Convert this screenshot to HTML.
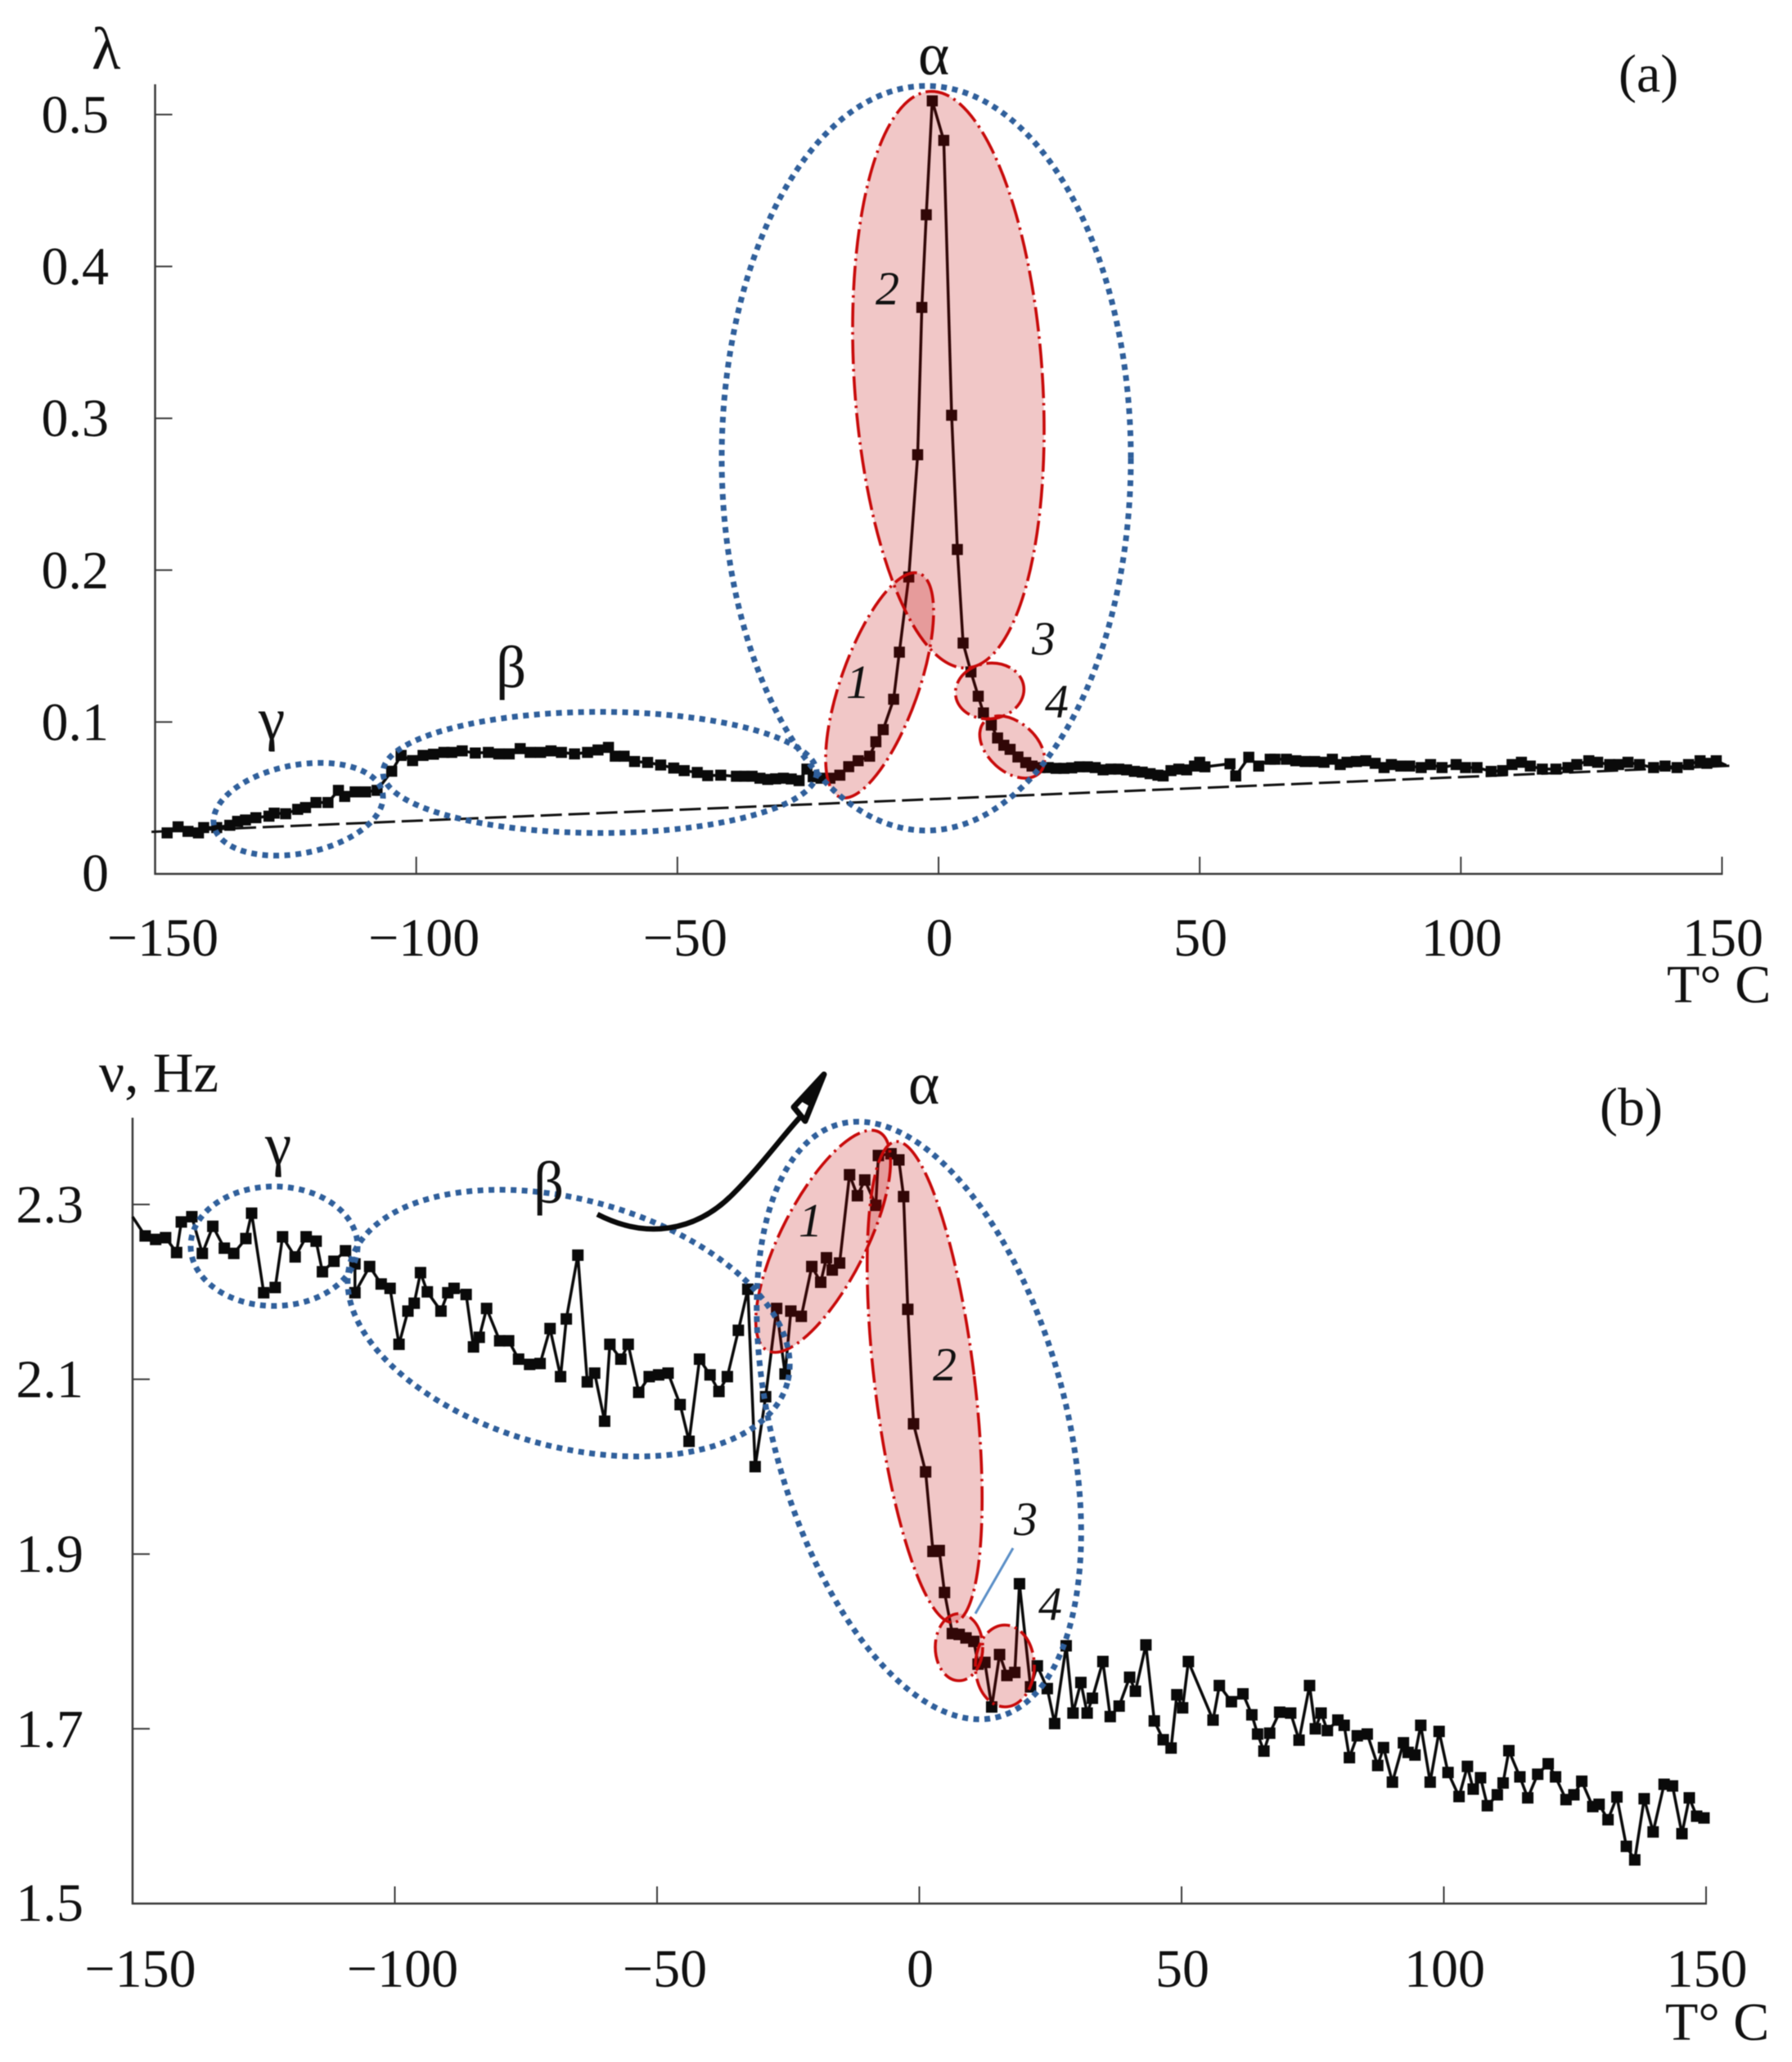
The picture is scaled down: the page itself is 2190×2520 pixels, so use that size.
<!DOCTYPE html>
<html lang="en">
<head>
<meta charset="utf-8">
<title>Loss coefficient and frequency vs temperature</title>
<style>
html,body{margin:0;padding:0;background:#fff;}
#figure{display:block;width:2190px;height:2520px;filter:blur(0.5px);}
text{font-family:"Liberation Serif","DejaVu Serif",serif;fill:#111;}
.tick-text{font-size:66px;}
.greek{font-size:73px;}
.num{font-size:58px;font-style:italic;}
.blue{fill:none;stroke:#2f5f9b;stroke-width:7;stroke-dasharray:7 6.5;}
.red{fill:#c00000;fill-opacity:.22;stroke:none;}
.red-line{fill:none;stroke:#c80a0a;stroke-width:3.6;stroke-dasharray:30 6 3 6;}
</style>
</head>
<body>
<svg id="figure" xmlns="http://www.w3.org/2000/svg" viewBox="0 0 2190 2520" width="2190" height="2520">
  <rect x="0" y="0" width="2190" height="2520" fill="#fff"/>

  <g id="panelA"></g>
  <g id="overlayA">
    <g transform="translate(1159 464) rotate(-3.7)"><ellipse class="red" rx="115" ry="353"/><ellipse class="red-line" rx="115" ry="353"/></g>
    <g transform="translate(1075 837.5) rotate(19.5)"><ellipse class="red" rx="47.5" ry="145"/><ellipse class="red-line" rx="47.5" ry="145"/></g>
    <g transform="translate(1209.5 844.5) rotate(-8)"><ellipse class="red" rx="42" ry="34"/><ellipse class="red-line" rx="42" ry="34"/></g>
    <g transform="translate(1237 913) rotate(42)"><ellipse class="red" rx="46" ry="30"/><ellipse class="red-line" rx="46" ry="30"/></g>
    <ellipse class="blue" cx="364.5" cy="989" rx="105" ry="54" transform="rotate(-11 364.5 989)"/>
    <ellipse class="blue" cx="733" cy="944" rx="265" ry="74"/>
    <ellipse class="blue" cx="1132" cy="560" rx="250" ry="455"/>
    <text class="greek" x="112" y="84">λ</text>
    <text x="1978" y="112" font-size="66">(a)</text>
    <text class="greek" x="316" y="903">γ</text>
    <text class="greek" x="606" y="840">β</text>
    <text class="greek" x="1122" y="91">α</text>
    <text class="num" x="1034" y="853">1</text>
    <text class="num" x="1070" y="372">2</text>
    <text class="num" x="1261" y="800">3</text>
    <text class="num" x="1277" y="877">4</text>
    <text x="2037" y="1225" font-size="66">T° C</text>
  </g>

  <g id="panelB"></g>
  <g id="overlayB">
    <g transform="translate(1006 1517) rotate(27)"><ellipse class="red" rx="52" ry="150"/><ellipse class="red-line" rx="52" ry="150"/></g>
    <g transform="translate(1130 1689) rotate(-6.9)"><ellipse class="red" rx="61" ry="296"/><ellipse class="red-line" rx="61" ry="296"/></g>
    <g transform="translate(1172 2013)"><ellipse class="red" rx="29" ry="41"/><ellipse class="red-line" rx="29" ry="41"/></g>
    <g transform="translate(1228 2036)"><ellipse class="red" rx="36" ry="50"/><ellipse class="red-line" rx="36" ry="50"/></g>
    <ellipse class="blue" cx="335" cy="1523" rx="102" ry="73"/>
    <ellipse class="blue" cx="695" cy="1617" rx="277" ry="151" transform="rotate(15.3 695 1617)"/>
    <ellipse class="blue" cx="1123" cy="1736" rx="179" ry="375" transform="rotate(-15 1123 1736)"/>
    <path d="M730,1484 C790,1515 850,1505 895,1460 C930,1425 955,1390 978,1365" fill="none" stroke="#0a0a0a" stroke-width="6.5"/>
    <polygon points="1007,1313 970,1353 984,1370" fill="#fff" stroke="#0a0a0a" stroke-width="7" stroke-linejoin="round"/>
    <polygon points="1009,1311 979,1346 993,1354" fill="#0a0a0a"/>
    <line x1="1192" y1="1972" x2="1238" y2="1892" stroke="#5b8fc7" stroke-width="3"/>
    <text x="121" y="1334" font-size="69">ν, Hz</text>
    <text x="1955" y="1375" font-size="66">(b)</text>
    <text class="greek" x="324" y="1423">γ</text>
    <text class="greek" x="652" y="1470">β</text>
    <text class="greek" x="1110" y="1349">α</text>
    <text class="num" x="976" y="1511">1</text>
    <text class="num" x="1140" y="1687">2</text>
    <text class="num" x="1239" y="1876">3</text>
    <text class="num" x="1269" y="1980">4</text>
    <text x="2035" y="2493" font-size="66">T° C</text>
  </g>
</svg>
<script>
const xTickValues = [-150,-100,-50,0,50,100,150];
const yTickValuesA = [0,0.1,0.2,0.3,0.4,0.5];
const yTickLabelsA = ["0","0.1","0.2","0.3","0.4","0.5"];
const yTickValuesB = [1.5,1.7,1.9,2.1,2.3];
const yTickLabelsB = ["1.5","1.7","1.9","2.1","2.3"];

const baselineTemps = [-150.7,151.5];
const baselineValues = [0.0277,0.0712];

const tempA = [-147.7,-145.6,-143.7,-141.7,-140.7,-138.2,-135.7,-134.2,-132.7,-130.7,-128.2,-127.2,-125,-122.7,-121.2,-119.2,-116.9,-114.9,-113.7,-111.7,-109.7,-107.5,-104.7,-102.9,-100.7,-98.7,-96.7,-94.7,-93.2,-91.2,-88.7,-86.2,-84.2,-82.2,-80.1,-78.2,-76.2,-74.2,-72.2,-69.7,-67.2,-65.2,-63.2,-61.9,-60.2,-58.2,-55.7,-53.2,-50.7,-48.7,-46.2,-44.2,-41.7,-38.7,-37.2,-35.7,-34.2,-32.7,-31.2,-29.7,-28.2,-26.7,-25.2,-24,-22.5,-20.8,-18.9,-17.2,-15.4,-13.2,-12,-10.6,-8.6,-7.5,-5.7,-4,-3.2,-2.35,-1.2,1,2.5,3.6,4.7,6.2,7.6,8.6,10.1,11.3,12.5,13.7,15.2,16.7,17.9,19.4,21,22.5,24,25.5,27,28.5,30,31.5,33,34.5,36,37.5,39,40.5,42,43,44.5,46,47.5,49,50,51,55.8,56.9,59.4,61.3,63.5,64.4,66.6,68.4,70.2,72,73.8,75.4,76.9,78.2,80,81.8,83.6,85.3,86.7,88.5,90.2,92.4,94.2,96.4,99.1,100.9,103.1,105.8,108,109.8,111.6,113.3,115.6,118.2,120.5,122.2,124.5,126.2,128.5,130.2,132,134.2,136.9,139.1,141.4,143.6,145.8,147.1,148.9,150.8];
const lambdaA = [0.027,0.031,0.028,0.027,0.0305,0.0305,0.032,0.0346,0.0355,0.037,0.038,0.04,0.0396,0.0425,0.0437,0.047,0.047,0.055,0.051,0.054,0.054,0.055,0.0676,0.078,0.0746,0.078,0.0788,0.08,0.08,0.081,0.0796,0.08,0.079,0.079,0.0825,0.08,0.08,0.081,0.08,0.079,0.08,0.0816,0.0833,0.0775,0.0775,0.074,0.0734,0.0717,0.0697,0.068,0.0668,0.0647,0.065,0.0643,0.0643,0.0643,0.063,0.0622,0.0626,0.063,0.0625,0.0614,0.069,0.064,0.063,0.063,0.065,0.0706,0.0745,0.0775,0.087,0.095,0.115,0.146,0.1955,0.276,0.373,0.434,0.509,0.483,0.302,0.2136,0.152,0.133,0.117,0.106,0.098,0.0895,0.0847,0.082,0.077,0.0733,0.071,0.07,0.07,0.0695,0.0695,0.0698,0.0705,0.0705,0.07,0.0685,0.069,0.069,0.0685,0.0675,0.067,0.066,0.065,0.0645,0.068,0.069,0.0685,0.071,0.0735,0.0705,0.0725,0.0645,0.0768,0.071,0.0755,0.0755,0.0755,0.0745,0.074,0.074,0.0735,0.0755,0.072,0.0735,0.074,0.0745,0.0728,0.07,0.072,0.071,0.071,0.07,0.072,0.07,0.072,0.07,0.07,0.0675,0.068,0.072,0.0735,0.071,0.069,0.069,0.07,0.072,0.0745,0.0735,0.072,0.072,0.0735,0.072,0.07,0.071,0.07,0.072,0.0745,0.0728,0.0745,0.0715];

const tempB = [-150,-147.6,-145.6,-143.7,-141.6,-140.7,-138.7,-136.7,-134.7,-132.5,-130.7,-128.4,-127.3,-125,-122.8,-121.4,-119,-116.9,-115,-113.8,-111.6,-109.4,-107.6,-107.6,-104.8,-102.6,-100.9,-99.2,-97.5,-96.3,-95.1,-93.8,-91.2,-89.9,-88.7,-86.4,-85,-83.9,-82.5,-80,-78.3,-76.4,-74.3,-72.3,-70.4,-68.4,-67.3,-65.1,-63.3,-61.9,-60,-59,-56.9,-55.5,-53.5,-51.5,-49.7,-47.9,-45.6,-43.9,-41.9,-39.9,-38.2,-36.6,-34.5,-32.7,-31.3,-29.3,-27.2,-25.6,-24.5,-22.5,-20.5,-18.8,-17.7,-16.6,-15.2,-13.3,-11.8,-10.4,-8.3,-7.8,-5.4,-3.9,-3,-2.2,-1.1,1.2,2.6,3.8,4.8,6.3,7.6,8.9,10.4,11.2,12.5,13.8,15.3,16.7,18.2,19.1,21.2,22.5,24.4,25.8,28,29.3,30.8,32,33,35,36.4,38.1,40.1,41.2,43.2,44.8,46.5,48,49.1,50.2,51.3,56,57.2,59.5,61.7,63.4,64.5,65.7,66.8,68.7,70.8,72.4,74.4,75.5,76.6,77.8,79.8,81,82,83.5,85.4,87.4,88.5,90.2,92.3,93.2,94.5,95.6,97.4,99.1,100.8,102.9,104.5,105.6,107,108.3,110.2,111.3,112.4,114.5,116,117.9,119.9,121.3,123.3,124.8,126.3,128.4,129.6,131.3,133,134.8,136.4,138.2,139.9,142,143.6,145.4,146.8,148.2,149.6];
const freqB = [2.286,2.264,2.26,2.262,2.245,2.28,2.286,2.244,2.275,2.25,2.244,2.261,2.29,2.199,2.205,2.263,2.24,2.263,2.258,2.223,2.235,2.247,2.232,2.199,2.229,2.209,2.204,2.14,2.178,2.187,2.222,2.2,2.178,2.199,2.204,2.197,2.137,2.148,2.181,2.144,2.144,2.123,2.117,2.118,2.158,2.103,2.169,2.242,2.097,2.107,2.052,2.14,2.123,2.14,2.085,2.103,2.105,2.107,2.071,2.029,2.123,2.105,2.086,2.103,2.156,2.203,2.0,2.08,2.181,2.106,2.178,2.172,2.229,2.211,2.239,2.225,2.233,2.334,2.31,2.328,2.299,2.356,2.358,2.351,2.309,2.18,2.049,1.994,1.903,1.904,1.856,1.809,1.808,1.804,1.8,1.774,1.776,1.725,1.785,1.761,1.7645,1.866,1.748,1.772,1.746,1.706,1.795,1.718,1.753,1.718,1.735,1.777,1.714,1.726,1.759,1.743,1.796,1.709,1.6875,1.678,1.739,1.724,1.777,1.71,1.7495,1.731,1.74,1.716,1.694,1.6745,1.695,1.719,1.718,1.687,1.7495,1.7,1.718,1.698,1.71,1.704,1.667,1.692,1.694,1.658,1.6785,1.639,1.684,1.673,1.67,1.704,1.639,1.697,1.65,1.6225,1.657,1.631,1.644,1.612,1.6245,1.638,1.675,1.645,1.621,1.648,1.66,1.645,1.619,1.6245,1.64,1.611,1.6136,1.596,1.622,1.5655,1.55,1.62,1.582,1.6365,1.6346,1.58,1.621,1.6,1.598];

const SVG_NS = "http://www.w3.org/2000/svg";
function make(parent, tag, attrs) {
  const el = document.createElementNS(SVG_NS, tag);
  for (const k in attrs) el.setAttribute(k, attrs[k]);
  parent.appendChild(el);
  return el;
}
function polyline(xs, ys, sx, sy) {
  return xs.map((t, i) => sx(t).toFixed(1) + "," + sy(ys[i]).toFixed(1)).join(" ");
}
function fmtX(v) { return v < 0 ? "\u2212" + Math.abs(v) : String(v); }

function drawAxes(g, cfg) {
  const axisColor = "#3a3a3a";
  const left = cfg.sx(-150), right = cfg.sx(150), base = cfg.sy(cfg.yTicks[0]);
  const yAxis = make(g, "line", {x1:left, y1:cfg.top, x2:left, y2:base + 1, stroke:axisColor, "stroke-width":2.5});
  
  
  const xAxis = make(g, "line", {x1:left - 1, y1:base, x2:right + 1, y2:base, stroke:axisColor, "stroke-width":2.5});
  
  
  xTickValues.forEach(v => {
    const x = cfg.sx(v);
    if (v !== -150) {
      const tick = make(g, "line", {x1:x, y1:base, x2:x, y2:base - 21, stroke:axisColor, "stroke-width":2});
      
      
    }
    const label = make(g, "text", {x:x + (v < 0 ? 9.5 : 1), y:cfg.xLabelY, "text-anchor":"middle", class:"tick-text"});
    
    
    label.textContent = fmtX(v);
  });
  cfg.yTicks.forEach((v, i) => {
    const y = cfg.sy(v);
    if (i > 0) {
      const tick = make(g, "line", {x1:left, y1:y, x2:left + 21, y2:y, stroke:axisColor, "stroke-width":2});
      
      
    }
    const label = make(g, "text", {x:cfg.yLabelX, y:y + (i === 0 ? 21 : 22), "text-anchor":"end", class:"tick-text"});
    
    
    label.textContent = cfg.yLabels[i];
  });
}

function drawSeries(g, xs, ys, sx, sy, name, firstMarker, lastMarker, width, size) {
  const line = make(g, "polyline", {points:polyline(xs, ys, sx, sy), fill:"none", stroke:"#0a0a0a", "stroke-width":width, "stroke-linejoin":"round"});
  
  
  for (let i = firstMarker; i <= lastMarker; i++) {
    const m = make(g, "rect", {x:sx(xs[i]) - size / 2, y:sy(ys[i]) - size / 2, width:size, height:size, fill:"#0a0a0a"});
    
    
  }
}

const xA = t => 1147 + 6.383 * t;
const yA = v => 1068 - 1856 * v;
const xB = t => 1123.5 + 6.41 * t;
const yB = v => 1472 + (2.3 - v) * 1068;

const panelA = document.getElementById("panelA");
drawAxes(panelA, {sx:xA, sy:yA, top:103, yTicks:yTickValuesA, yLabels:yTickLabelsA, xLabelY:1168, yLabelX:133});
const baseline = make(panelA, "polyline", {points:polyline(baselineTemps, baselineValues, xA, yA), fill:"none", stroke:"#111", "stroke-width":3, "stroke-dasharray":"26 8"});


drawSeries(panelA, tempA, lambdaA, xA, yA, "lambda-series", 0, tempA.length - 2, 3.5, 13.5);

const panelB = document.getElementById("panelB");
drawAxes(panelB, {sx:xB, sy:yB, top:1366, yTicks:yTickValuesB, yLabels:yTickLabelsB, xLabelY:2428, yLabelX:102});
drawSeries(panelB, tempB, freqB, xB, yB, "frequency-series", 1, tempB.length - 1, 3.5, 14);
</script>
</body>
</html>
